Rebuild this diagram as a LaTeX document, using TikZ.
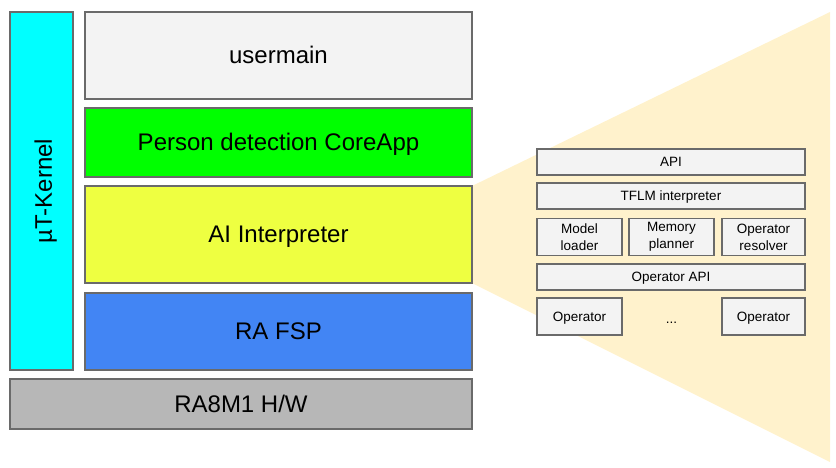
\documentclass[tikz,border=0pt]{standalone}
\usepackage{fontspec}
\setmainfont{Liberation Sans}
\usetikzlibrary{backgrounds}
\definecolor{lgray}{HTML}{F3F3F3}
\definecolor{bcyan}{HTML}{00FFFF}
\definecolor{bgreen}{HTML}{00FF00}
\definecolor{byellow}{HTML}{EEFF41}
\definecolor{bblue}{HTML}{4285F4}
\definecolor{bgrey}{HTML}{B7B7B7}
\definecolor{beige}{HTML}{FFF2CC}
\definecolor{edge}{HTML}{6A6A6A}
\tikzset{
  bigtext/.style={font=\fontsize{24}{28}\selectfont, text height=19.2pt, text depth=2.4pt},
  smalltext/.style={font=\fontsize{13.5}{17}\selectfont, text height=10.8pt, text depth=1.35pt},
  layer/.style={draw=edge, line width=1.2pt, inner sep=0pt, outer sep=0pt, align=center, bigtext},
  small/.style={draw=edge, line width=1.2pt, fill=lgray, inner sep=0pt, outer sep=0pt, align=center, smalltext},
  smalltwo/.style={draw=edge, line width=1.2pt, fill=lgray, inner sep=0pt, outer sep=0pt, align=center, font=\fontsize{13.5}{17}\selectfont},
}
\begin{document}
\begin{tikzpicture}[x=1pt,y=-1pt]
\useasboundingbox (0,0) rectangle (836,467);
% left stack
\node[layer, fill=bcyan, minimum width=63pt, minimum height=358pt] (kernel) at (41.5,191) {};
\node[rotate=90, bigtext, inner sep=0pt] (kernellabel) at (43.5,191) {µT-Kernel};
\node[layer, fill=lgray, minimum width=387pt, minimum height=87pt] (user) at (278.5,55.5) {usermain};
\node[layer, fill=bgreen, minimum width=387pt, minimum height=69pt] (person) at (278.5,142.5) {Person detection CoreApp};
\node[layer, fill=byellow, minimum width=387pt, minimum height=97pt] (ai) at (278.5,234.5) {AI Interpreter};
\node[layer, fill=bblue, minimum width=387pt, minimum height=77pt] (fsp) at (278.5,331.5) {RA FSP};
\node[layer, fill=bgrey, minimum width=462pt, minimum height=50pt] (hw) at (241,404) {RA8M1 H/W};
% right detail
\node[small, minimum width=268pt, minimum height=26pt] (api) at (671,162) {API};
\node[small, minimum width=268pt, minimum height=26pt] (tflm) at (671,196) {TFLM interpreter};
\node[smalltwo, minimum width=85pt, minimum height=37pt] (loader) at (579.5,237) {Model\\loader};
\node[smalltwo, minimum width=85pt, minimum height=37pt] (planner) at (671.5,237) {Memory\\planner};
\node[smalltwo, minimum width=83pt, minimum height=37pt] (resolver) at (763.5,237) {Operator\\resolver};
\node[small, minimum width=268pt, minimum height=26pt] (opapi) at (671,277) {Operator API};
\node[small, minimum width=85pt, minimum height=37pt] (op1) at (579.5,316.5) {Operator};
\node[smalltext, inner sep=0pt] (dots) at (671.5,319) {...};
\node[small, minimum width=83pt, minimum height=37pt] (op2) at (763.5,316.5) {Operator};
\coordinate (tr) at (830,12);
\coordinate (br) at (830,462);
\begin{pgfonlayer}{background}
\fill[beige] (ai.north east) -- (tr) -- (br) -- (ai.south east) -- cycle;
\end{pgfonlayer}
\end{tikzpicture}
\end{document}
